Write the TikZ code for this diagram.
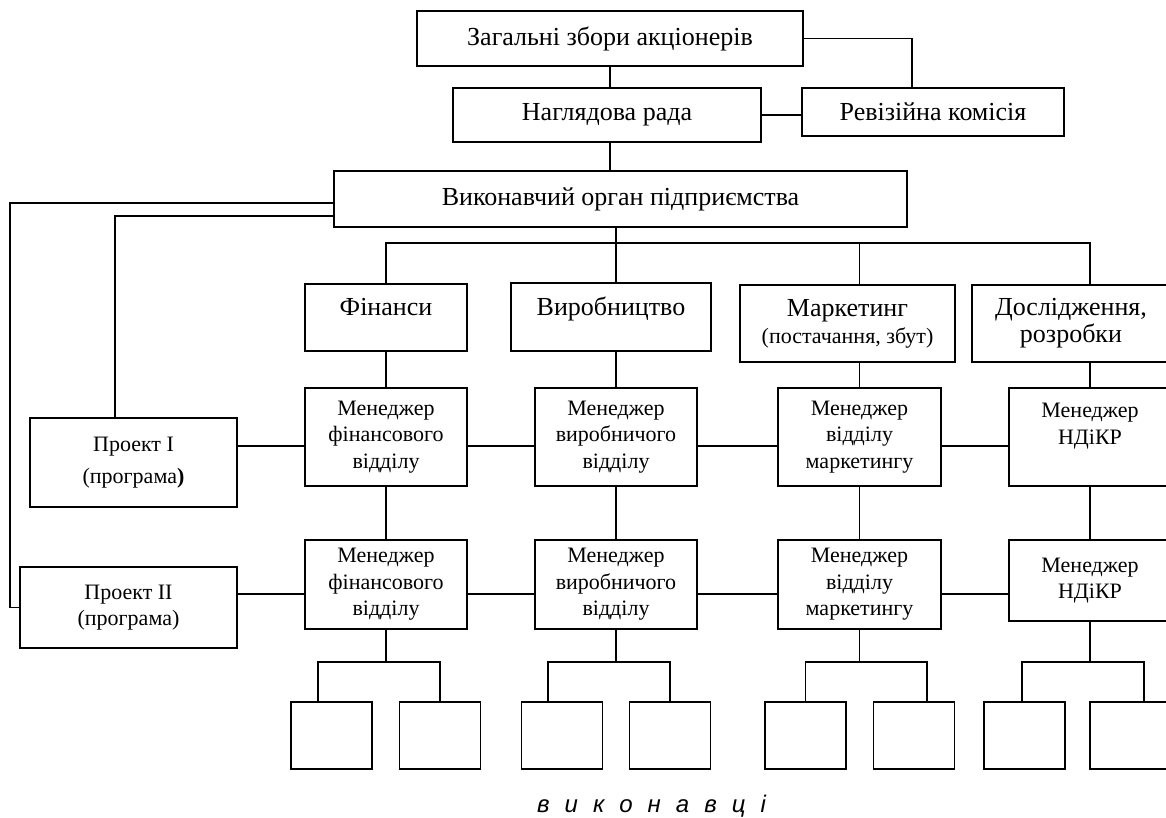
\documentclass[tikz,border=0pt]{standalone}
\usepackage{fontspec}
\setmainfont{Liberation Serif}
\newfontfamily\sansfnt{Liberation Sans}
\usepackage{tikz}
\usetikzlibrary{positioning,calc}

\begin{document}
\begin{tikzpicture}[
  x=1pt,y=-1pt,
  every node/.style={align=center,inner sep=0pt},
  big/.style={font=\fontsize{26}{30}\selectfont},
  small/.style={font=\fontsize{22}{26.5}\selectfont},
  box/.style 2 args={draw,line width=1.2pt,minimum width=#1,minimum height=#2},
  ln/.style={line width=1.2pt}
]
\useasboundingbox (0,0) rectangle (1166,817);
\clip (0,0) rectangle (1166,817);
\fill[white] (0,0) rectangle (1166,817);

\node[box={386pt}{55pt},big] (gen) at (610,38.5) {Загальні збори акціонерів};
\node[box={308pt}{54pt},big] (nag) at (607,115) {Наглядова рада};
\node[box={262pt}{48pt},big] (rev) at (933,112) {Ревізійна комісія};
\node[box={573pt}{56pt},big] (vyk) at (620.5,199) {Виконавчий орган підприємства};

\node[box={162pt}{67pt},big] (fin) at (386,317.5) {Фінанси\\[-8pt]~};
\node[box={200pt}{68pt},big] (vyr) at (611,317) {Виробництво\\[-8pt]~};
\node[box={215pt}{77pt},big] (mar) at (847.5,323.5) {Маркетинг\\[-3pt]{\fontsize{22}{26.5}\selectfont(постачання, збут)}};
\node[box={198pt}{77pt},big] (dos) at (1071,323.5) {Дослідження,\\[-3pt]розробки};

\node[box={162pt}{98pt},small] (mf1) at (386,437) {Менеджер\\фінансового\\відділу};
\node[box={162pt}{98pt},small] (mv1) at (616,437) {Менеджер\\виробничого\\відділу};
\node[box={163pt}{98pt},small] (mm1) at (859.5,437) {Менеджер\\відділу\\маркетингу};
\node[box={162pt}{98pt},small] (mn1) at (1090,437) {Менеджер\\НДіКР\\~};

\node[box={162pt}{89pt},small] (mf2) at (386,584.5) {Менеджер\\фінансового\\відділу};
\node[box={162pt}{89pt},small] (mv2) at (616,584.5) {Менеджер\\виробничого\\відділу};
\node[box={163pt}{89pt},small] (mm2) at (859.5,584.5) {Менеджер\\відділу\\маркетингу};
\node[box={162pt}{81pt},small] (mn2) at (1090,580.5) {Менеджер\\НДіКР};

\node[box={207pt}{89pt},small] (p1) at (133.5,462.5) {Проект I\\[5.5pt](програма\textbf{)}};
\node[box={217pt}{81pt},small] (p2) at (128.5,607.5) {Проект II\\(програма)};

\foreach \n/\x in {w11/331.5,w12/440,w21/562,w22/670,w31/805.5,w32/914,w41/1024.5,w42/1130.5}
  \node[box={81pt}{67pt}] (\n) at (\x,735.5) {};

\node[font=\sansfnt\itshape\fontsize{24}{28}\selectfont] (ispol) at (651.5,806) {\spaceskip=15pt в и к о н а в ц і};

\coordinate (bus) at (0,243);
\coordinate (r1) at (0,446);
\coordinate (r2) at (0,594);
\coordinate (sb) at (0,662);
\coordinate (o1) at (10,203);
\coordinate (i1) at (115,216);

\draw[ln] (gen) -- (gen |- nag.north);
\draw[ln] (nag.south -| gen) -- (vyk.north -| gen);
\draw[ln] (gen.east) -| ([xshift=-21pt]rev.north);
\draw[ln] (nag.east) -- (nag.east -| rev.west);

\draw[ln] (vyk.south -| mv1) -- (vyr.north -| mv1);
\draw[ln] (fin.north) |- (bus -| mn1) -- (dos.north -| mn1);
\draw[ln] (bus -| mm1) -- (mar.north -| mm1);

\draw[ln] (vyk.west |- o1) -- (o1) |- (p2.west);
\draw[ln] (vyk.west |- i1) -| ([xshift=-18.5pt]p1.north);

\draw[ln] (fin) -- (mf1);
\draw[ln] (vyr.south -| mv1) -- (mv1.north);
\draw[ln] (mar.south -| mm1) -- (mm1.north);
\draw[ln] (dos.south -| mn1) -- (mn1.north);
\foreach \m in {f,v,m,n}
  \draw[ln] (m\m1) -- (m\m2);

\foreach \a/\b in {p1/mf1,mf1/mv1,mv1/mm1,mm1/mn1}
  \draw[ln] (\a.east |- r1) -- (\b.west |- r1);
\foreach \a/\b in {p2/mf2,mf2/mv2,mv2/mm2,mm2/mn2}
  \draw[ln] (\a.east |- r2) -- (\b.west |- r2);

\foreach \m/\a/\da/\b/\db in {mf2/w11/-13.5/w12/0,mv2/w21/-14/w22/0,mm2/w31/0/w32/13,mn2/w41/-2.5/w42/13.5}{
  \draw[ln] (\m.south) -- (\m |- sb);
  \draw[ln] ([xshift=\da pt]\a.north) |- (\m |- sb) -| ([xshift=\db pt]\b.north);
}
\end{tikzpicture}
\end{document}
